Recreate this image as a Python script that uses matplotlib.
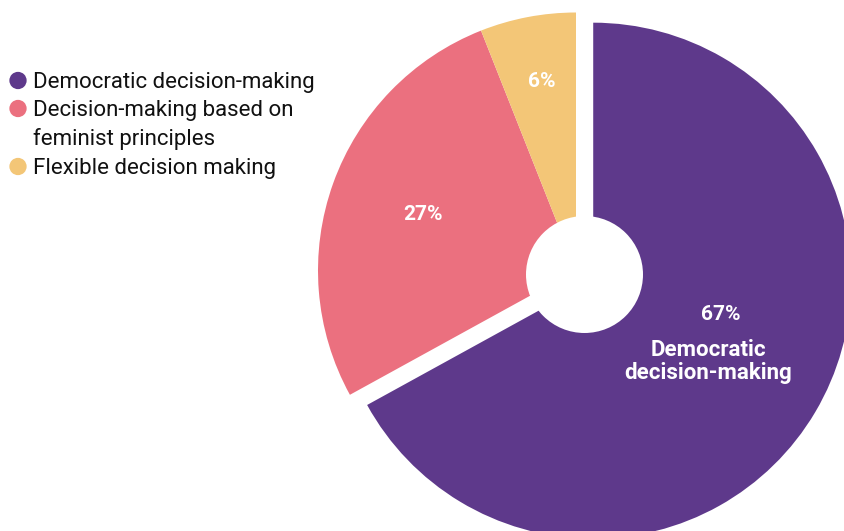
import numpy as np
import matplotlib.pyplot as plt
from matplotlib.patches import Circle

# データ
categories = ['Democratic decision-making',
              'Decision-making based on\nfeminist principles',
              'Flexible decision making']
values = [67, 27, 6]
colors = ['#5E398B', '#EB707F', '#F3C677']

W, H = 844, 531
fig = plt.figure(figsize=(W / 100, H / 100), dpi=100)
ax = fig.add_axes([0, 0, 1, 1])

# 円グラフ（座標はピクセル、y は上向き）
cx, cy, R = 576, H - 270.5, 258
wedges, _ = ax.pie(values, colors=colors, startangle=90, counterclock=False,
                   center=(cx, cy), radius=R, explode=[20, 0, 0],
                   wedgeprops=dict(linewidth=0))
ax.add_patch(Circle((584.5, H - 274.5), 58.5, facecolor='white', edgecolor='none', zorder=5))

ax.set_xlim(0, W)
ax.set_ylim(0, H)
ax.set_aspect('equal')
ax.axis('off')

# パーセント表示
lab_font = dict(family=['Roboto', 'DejaVu Sans'], fontweight='bold', color='white',
                ha='center', va='baseline', zorder=6)
pct_pos = [(721, 320), (422.5, 220), (541.5, 87)]
for v, (x, y) in zip(values, pct_pos):
    ax.text(x, H - y, f'{v}%', fontsize=15, **lab_font)
# 最大の区分には名前も付ける（1行ずつ描く）
for i, line in enumerate(['Democratic', 'decision-making']):
    ax.text(708.5, H - (356 + 23 * i), line, fontsize=16, **lab_font)

# 凡例（手描き、複数行ラベルは行ごとに描く）
dot_y = [80.5, 108.5, 166.5]
line_h = 29
for name, col, yd in zip(categories, colors, dot_y):
    ax.scatter([18], [H - yd], s=155, color=col, edgecolors='none', zorder=6)
    for i, line in enumerate(name.split('\n')):
        ax.text(33, H - (yd + 7.5 + line_h * i), line, fontsize=16,
                family=['Roboto', 'DejaVu Sans'], color='#111111',
                ha='left', va='baseline', zorder=6)

fig.savefig('out.png', dpi=100)
